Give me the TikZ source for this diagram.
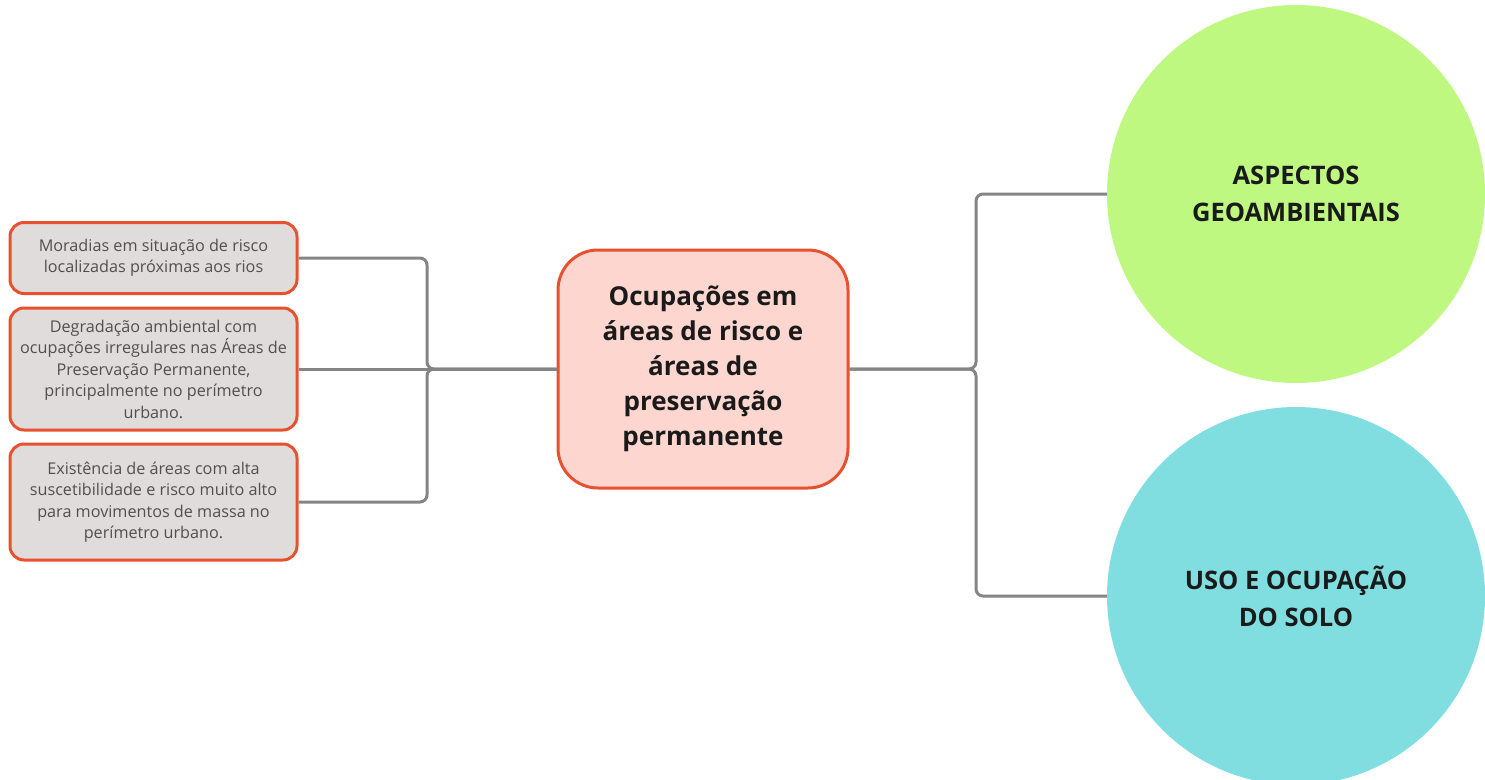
\documentclass[tikz,border=0pt]{standalone}
\usepackage{fontspec}
\setmainfont{Open Sans}
\usetikzlibrary{positioning}
\definecolor{MapRed}{RGB}{232, 81, 48}
\definecolor{MapGrey}{RGB}{224, 220, 219}
\definecolor{MapPink}{RGB}{252, 214, 207}
\definecolor{MapLime}{RGB}{190, 248, 128}
\definecolor{MapCyan}{RGB}{128, 222, 224}
\definecolor{MapLine}{RGB}{133, 133, 133}
\definecolor{MapText}{RGB}{80, 80, 80}
\definecolor{MapInk}{RGB}{26, 26, 26}

\tikzset{
    leafbox/.style={draw=MapRed, line width=3pt, fill=MapGrey, rounded corners=14pt,
        minimum width=287pt, inner sep=0pt, align=center, text=MapText,
        font=\fontsize{16.2}{21.5}\selectfont},
    hubbox/.style={draw=MapRed, line width=3pt, fill=MapPink, rounded corners=40pt,
        minimum width=290pt, minimum height=238pt, inner sep=0pt, align=center, text=MapInk,
        font=\fontsize{26}{35}\selectfont\bfseries},
    topicball/.style={circle, minimum size=378pt, inner sep=0pt, align=center, text=MapInk,
        font=\fontsize{25.5}{37}\selectfont\bfseries},
    link/.style={draw=MapLine, line width=3pt, rounded corners=7pt}
}

\begin{document}
\begin{tikzpicture}[x=1pt, y=-1pt]

        % Page frame
        \useasboundingbox (0,0) rectangle (1485,779);
        \clip (0,0) rectangle (1485,779);

        % Central topic
        \node[hubbox] (hub) at (703,369) {Ocupações em\\áreas de risco e\\áreas de\\preservação\\permanente};

        % Left: observed problems
        \node[leafbox, minimum height=71pt] (moradias) at (153.5,258)
            {Moradias em situação de risco\\localizadas próximas aos rios};
        \node[leafbox, minimum height=122pt] (degradacao) at (153.5,369)
            {Degradação ambiental com\\ocupações irregulares nas Áreas de\\Preservação Permanente,\\principalmente no perímetro\\urbano.};
        \node[leafbox, minimum height=116pt] (existencia) at (153.5,502)
            {Existência de áreas com alta\\suscetibilidade e risco muito alto\\para movimentos de massa no\\perímetro urbano.};

        % Right: themes
        \node[topicball, fill=MapLime] (geo) at (1296,194) {ASPECTOS\\GEOAMBIENTAIS};
        \node[topicball, fill=MapCyan] (uso) at (1296,596) {USO E OCUPAÇÃO\\DO SOLO};

        % Brace junctions
        \coordinate (jleft) at (427,369);
        \coordinate (jright) at (976,369);

        % Left brace
        \draw[link] (moradias.east) -| (jleft) -- (hub.west);
        \draw[link] (existencia.east) -| (jleft) -- (hub.west);
        \draw[link] (degradacao.east) -- (hub.west);

        % Right brace
        \draw[link] (hub.east) -- (jright) |- (geo.west);
        \draw[link] (hub.east) -- (jright) |- (uso.west);

\end{tikzpicture}
\end{document}
